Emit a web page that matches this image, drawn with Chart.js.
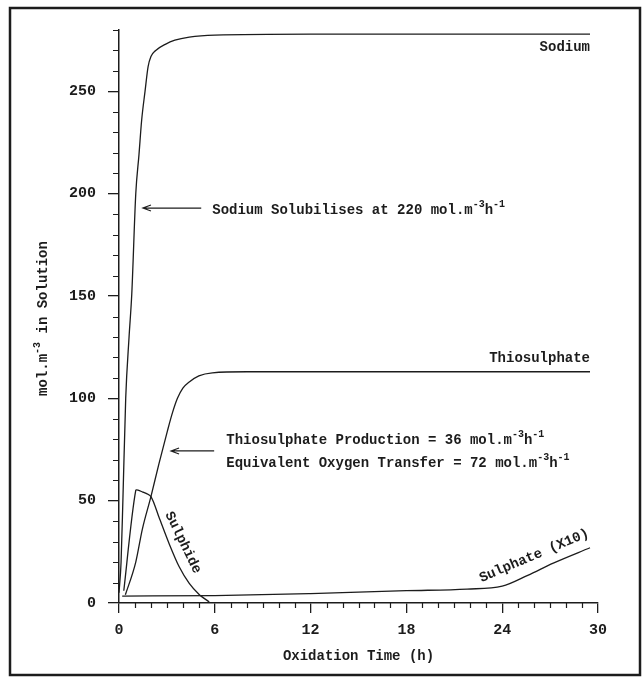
<!DOCTYPE html>
<html>
<head>
<meta charset="utf-8">
<script src="https://cdn.jsdelivr.net/npm/chart.js@4.4.0/dist/chart.umd.min.js"></script>
<style>
html,body{margin:0;padding:0;background:#fff}
canvas{display:block}
</style>
</head>
<body>
<canvas id="c" width="642" height="677"></canvas>
<script>
// values (time in h, concentration in mol.m-3)
const sodiumTime = [0, 0.13, 0.25, 0.42, 0.63, 0.8, 1.05, 1.25, 1.42, 1.63, 1.82, 2.0, 2.3, 2.9, 3.5, 4.4, 6, 12, 29.5];
const sodiumConc = [5, 20, 52, 100, 130, 151, 200, 219, 236, 250, 262, 267, 270, 273, 275, 276.5, 277.5, 278, 278];

const thioTime = [0.4, 1.05, 1.46, 2.0, 2.5, 3.03, 3.35, 3.66, 4.0, 4.4, 5.0, 5.85, 8, 29.5];
const thioConc = [4, 20, 36, 52, 68, 84, 93, 100, 105, 108, 111, 112.5, 113, 113];

const sulphideTime = [0.3, 1.05, 1.46, 2.0, 2.5, 3.14, 3.77, 4.4, 5.02, 5.65];
const sulphideConc = [6, 55, 54.3, 52, 42, 29, 17.7, 9.6, 4.2, 0.5];

const sulphateTime = [0.2, 6, 12, 18, 21.8, 24, 25.6, 27.2, 29.5];
const sulphateConc = [3.4, 3.6, 4.6, 6.0, 6.8, 8.2, 13.5, 19.5, 27];

const xTicks = [0, 6, 12, 18, 24, 30];
const yTicks = [0, 50, 100, 150, 200, 250];

const INK = '#1c1c1c';
const FONT = '"Liberation Mono", "DejaVu Sans Mono", monospace';

const pts = (xs, ys) => xs.map((x, i) => ({x: x, y: ys[i]}));

// text laid on the plot, in data coordinates
const notes = [
  {x: 29.5, y: 271.5, align: 'right', parts: [['Sodium', 0]]},
  {x: 5.84, y: 192, align: 'left', parts: [['Sodium Solubilises at 220 mol.m', 0], ['-3', 1], ['h', 0], ['-1', 1]]},
  {x: 29.5, y: 119.5, align: 'right', parts: [['Thiosulphate', 0]]},
  {x: 6.72, y: 79.6, align: 'left', parts: [['Thiosulphate Production = 36 mol.m', 0], ['-3', 1], ['h', 0], ['-1', 1]]},
  {x: 6.72, y: 68.4, align: 'left', parts: [['Equivalent Oxygen Transfer = 72 mol.m', 0], ['-3', 1], ['h', 0], ['-1', 1]]},
  {x: 4.0, y: 29.5, align: 'center', rot: 64, parts: [['Sulphide', 0]]},
  {x: 26.0, y: 23, align: 'center', rot: -23, parts: [['Sulphate (X10)', 0]]}
];
const arrows = [
  {x1: 5.15, x2: 1.5, y: 193},
  {x1: 5.96, x2: 3.26, y: 74.3}
];

function richText(ctx, parts, x, y, align) {
  const big = 'bold 14px ' + FONT, small = 'bold 10px ' + FONT;
  let w = 0;
  parts.forEach(([t, sup]) => { ctx.font = sup ? small : big; w += ctx.measureText(t).width; });
  let cx = align === 'right' ? x - w : align === 'center' ? x - w / 2 : x;
  ctx.textBaseline = 'middle';
  ctx.textAlign = 'left';
  parts.forEach(([t, sup]) => {
    ctx.font = sup ? small : big;
    ctx.fillText(t, cx, sup ? y - 6 : y);
    cx += ctx.measureText(t).width;
  });
}

const decor = {
  id: 'decor',
  beforeDraw(chart) {
    const ctx = chart.ctx;
    ctx.save();
    ctx.fillStyle = '#fff';
    ctx.fillRect(0, 0, chart.width, chart.height);
    ctx.strokeStyle = INK;
    ctx.lineWidth = 2.5;
    ctx.strokeRect(10, 8, 630, 667);
    ctx.restore();
  },
  afterDraw(chart) {
    const ctx = chart.ctx, xs = chart.scales.x, ys = chart.scales.y, a = chart.chartArea;
    ctx.save();
    ctx.strokeStyle = INK;
    ctx.fillStyle = INK;
    ctx.lineWidth = 1.2;
    // minor ticks
    ctx.beginPath();
    for (let v = 1; v < 30; v++) {
      if (v % 6 === 0) continue;
      const px = Math.round(xs.getPixelForValue(v)) + 0.5;
      ctx.moveTo(px, a.bottom); ctx.lineTo(px, a.bottom + 5);
    }
    for (let v = 10; v <= 280; v += 10) {
      if (v % 50 === 0) continue;
      const py = Math.round(ys.getPixelForValue(v)) + 0.5;
      ctx.moveTo(a.left - 6, py); ctx.lineTo(a.left, py);
    }
    ctx.stroke();

    // arrows
    arrows.forEach(ar => {
      const x1 = xs.getPixelForValue(ar.x1), x2 = xs.getPixelForValue(ar.x2), y = ys.getPixelForValue(ar.y);
      ctx.beginPath();
      ctx.moveTo(x1, y); ctx.lineTo(x2, y);
      ctx.moveTo(x2 + 8, y - 3); ctx.lineTo(x2, y); ctx.lineTo(x2 + 8, y + 3);
      ctx.stroke();
    });

    // labels
    notes.forEach(n => {
      const px = xs.getPixelForValue(n.x), py = ys.getPixelForValue(n.y);
      ctx.save();
      ctx.translate(px, py);
      if (n.rot) ctx.rotate(n.rot * Math.PI / 180);
      richText(ctx, n.parts, 0, 0, n.align);
      ctx.restore();
    });

    // y axis title
    ctx.save();
    ctx.translate(a.left - 76, (a.top + a.bottom) / 2 + 2);
    ctx.rotate(-Math.PI / 2);
    richText(ctx, [['mol.m', 0], ['-3', 1], [' in Solution', 0]], 0, 0, 'center');
    ctx.restore();
    ctx.restore();
  }
};

new Chart(document.getElementById('c'), {
  type: 'line',
  data: {
    datasets: [
      {label: 'Sodium', data: pts(sodiumTime, sodiumConc)},
      {label: 'Thiosulphate', data: pts(thioTime, thioConc)},
      {label: 'Sulphide', data: pts(sulphideTime, sulphideConc), cubicInterpolationMode: 'default', tension: 0.25},
      {label: 'Sulphate (X10)', data: pts(sulphateTime, sulphateConc)}
    ]
  },
  options: {
    responsive: false,
    animation: false,
    layout: {padding: {left: 10, top: 30, right: 44, bottom: 10}},
    plugins: {legend: {display: false}, tooltip: {enabled: false}},
    elements: {
      point: {radius: 0},
      line: {borderWidth: 1.3, borderColor: INK, fill: false, cubicInterpolationMode: 'monotone'}
    },
    scales: {
      x: {
        type: 'linear', min: 0, max: 30,
        afterBuildTicks: s => { s.ticks = xTicks.map(v => ({value: v})); },
        ticks: {color: INK, font: {family: FONT, size: 15, weight: 'bold'}, padding: 8, maxRotation: 0},
        grid: {drawOnChartArea: false, tickLength: 10, color: INK, lineWidth: 1.3},
        border: {color: INK, width: 1.5},
        title: {display: true, text: 'Oxidation Time (h)', color: INK, font: {family: FONT, size: 14, weight: 'bold'}, padding: {top: 4, bottom: 2}},
        afterFit: s => { s.height = 64; }
      },
      y: {
        type: 'linear', min: 0, max: 280,
        afterBuildTicks: s => { s.ticks = yTicks.map(v => ({value: v})); },
        ticks: {color: INK, font: {family: FONT, size: 15, weight: 'bold'}, padding: 12},
        grid: {drawOnChartArea: false, tickLength: 11, color: INK, lineWidth: 1.3},
        border: {color: INK, width: 1.5},
        afterFit: s => { s.width = 109; }
      }
    }
  },
  plugins: [decor]
});
</script>
</body>
</html>
